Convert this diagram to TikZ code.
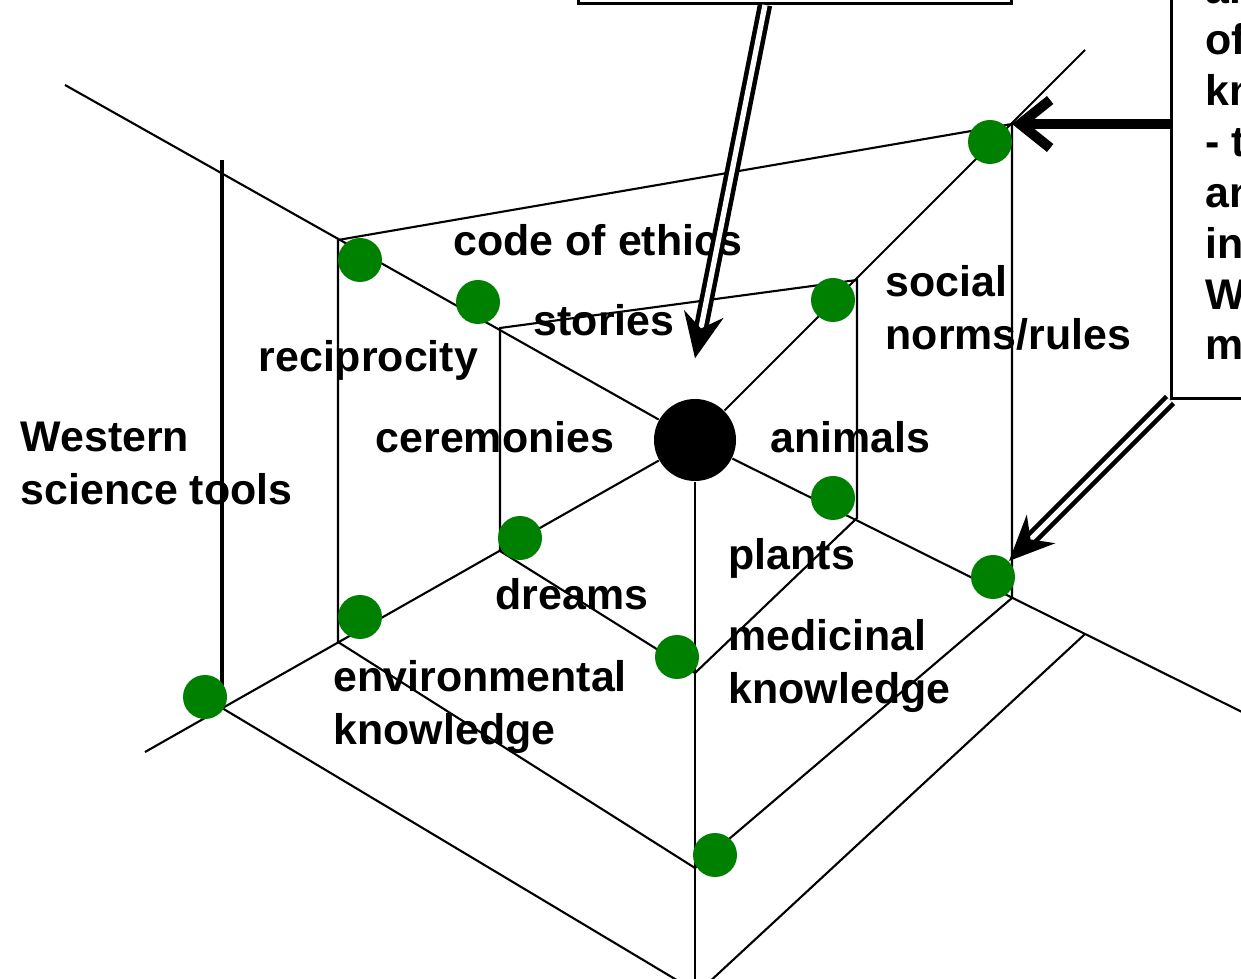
\documentclass[tikz,border=0pt]{standalone}
\usepackage{fontspec}
\setmainfont{Liberation Sans}
\usepackage{xcolor}
\definecolor{knwgreen}{HTML}{008000}
\usetikzlibrary{arrows.meta}
\tikzset{
  knwedge/.style={line width=0.6pt},
  knwaxis/.style={line width=1.3pt},
  knwdot/.style={circle,fill=knwgreen,inner sep=0pt,minimum size=4.4mm},
  knwhub/.style={circle,fill=black,inner sep=0pt,minimum size=8.2mm},
  knwlabel/.style={font=\bfseries\fontsize{12.2}{15.2}\selectfont,inner sep=0pt,align=left,anchor=base west},
  knwbox/.style={draw,line width=0.8pt,fill=white,inner sep=0pt},
  knwhollow/.style={double=white,double distance=1.5pt,line width=1.3pt,-{Stealth[length=4.5mm,width=4mm]}},
  knwsolid/.style={line width=2.9pt,-{Straight Barb[length=3mm,width=4.8mm]}},
}

\begin{document}
\begin{tikzpicture}[x=0.1mm,y=-0.1mm]
 % nested knowledge hexagons round one centre
\useasboundingbox (0,0) rectangle (1241,979);
\clip (0,0) rectangle (1241,979);
\fill[white] (0,0) rectangle (1241,979);
\node[knwhub] (hub) at (695,440) {};
\coordinate (oTL) at (338,240);
\coordinate (oTR) at (1012,124);
\coordinate (oR) at (1012,598);
\coordinate (oB) at (695,868);
\coordinate (oBL) at (338,642);
\coordinate (iTL) at (500,328);
\coordinate (iTR) at (857,280);
\coordinate (iBR) at (857,518);
\coordinate (iB) at (695,673);
\coordinate (iBL) at (500,551);
\coordinate (aTop) at (222,160);
\coordinate (aBot) at (222,708);
\coordinate (rMid) at (1085,634);
\coordinate (ulEnd) at (65,85);
\coordinate (urEnd) at (1085,50);
\coordinate (lrEnd) at (1250,716);
\coordinate (llEnd) at (145,752);
\coordinate (dnEnd) at (695,985);
\coordinate (blFoot) at (685,985);
\coordinate (brFoot) at (706,985);
\draw[knwedge] (ulEnd) -- (hub) -- (lrEnd);
\draw[knwedge] (urEnd) -- (hub) -- (llEnd);
\draw[knwedge] (hub) -- (dnEnd);
\draw[knwedge] (oTL) -- (oTR) -- (oR) -- (oB) -- (oBL) -- cycle;
\draw[knwedge] (iTL) -- (iTR) -- (iBR) -- (iB) -- (iBL) -- cycle;
\draw[knwaxis] (aTop) -- (aBot);
\draw[knwedge] (aBot) -- (blFoot);
\draw[knwedge] (rMid) -- (brFoot);
\node[knwdot] (dTLo) at (360,260) {};
\node[knwdot] (dTLi) at (478,302) {};
\node[knwdot] (dTRo) at (990,142) {};
\node[knwdot] (dTRi) at (833,300) {};
\node[knwdot] (dBRi) at (833,498) {};
\node[knwdot] (dRo) at (993,577) {};
\node[knwdot] (dBLi) at (520,538) {};
\node[knwdot] (dBLo) at (360,617) {};
\node[knwdot] (dAx) at (205,697) {};
\node[knwdot] (dBi) at (677,657) {};
\node[knwdot] (dBo) at (715,855) {};
\node[knwlabel] (ethics) at (453,256) {code of ethics};
\node[knwlabel] (stories) at (533,336) {stories};
\node[knwlabel] (recip) at (258,372) {reciprocity};
\node[knwlabel] (western) at (20,505) {Western\\science tools};
\node[knwlabel] (ceremon) at (375,453) {ceremonies};
\node[knwlabel] (animals) at (770,453) {animals};
\node[knwlabel] (social) at (885,350) {social\\norms/rules};
\node[knwlabel] (plants) at (728,570) {plants};
\node[knwlabel] (dreams) at (495,610) {dreams};
\node[knwlabel] (environ) at (333,745) {environmental\\knowledge};
\node[knwlabel] (medicin) at (728,704) {medicinal\\knowledge};
\node[knwbox,anchor=south west,minimum width=4.33cm,minimum height=1cm] (topbox) at (577,5) {};
\node[knwbox,anchor=south west,minimum width=1.5cm,minimum height=4.6cm] (sidebox) at (1170,400) {};
\node[knwlabel,font=\bfseries\fontsize{12.2}{14.5}\selectfont] (sidetext) at (1205,360) {ar\\of\\kn\\- t\\an\\int\\W\\m};
\coordinate (topFoot) at (765,5);
\draw[knwhollow] (topFoot) -- ([yshift=4mm]hub.north);
\draw[knwsolid] (sidebox.west |- oTR) -- (oTR);
\draw[knwhollow] (sidebox.south west) -- (dRo.north east);
\end{tikzpicture}
\end{document}
